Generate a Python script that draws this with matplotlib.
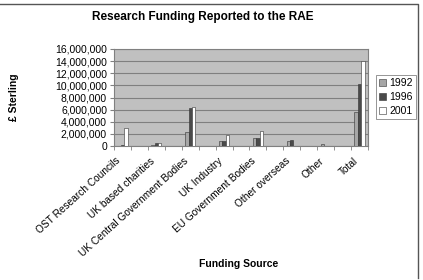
import numpy as np
import matplotlib
matplotlib.use('Agg')
import matplotlib.pyplot as plt
import matplotlib.transforms as mtransforms
from matplotlib.ticker import FuncFormatter
from matplotlib.lines import Line2D

plt.rcParams['font.family'] = ['Liberation Sans', 'DejaVu Sans']

sources = ['OST Research Councils', 'UK based charities', 'UK Central Government Bodies',
           'UK Industry', 'EU Government Bodies', 'Other overseas', 'Other', 'Total']
years = ['1992', '1996', '2001']
# values in pounds sterling
v1992 = [50000, 150000, 2300000, 800000, 1300000, 900000, 300000, 5650000]
v1996 = [150000, 500000, 6300000, 750000, 1300000, 1000000, 0, 10200000]
v2001 = [3000000, 450000, 6400000, 1850000, 2400000, 0, 0, 14100000]
colors = ['#a6a6a6', '#4a4a4a', '#ffffff']

fig = plt.figure(figsize=(4.23, 2.80), dpi=100)
ax = fig.add_axes([114 / 423, 1 - 146 / 280, 254 / 423, 97 / 280])

# categories sit on every other slot, like the original sheet
x = np.arange(len(sources)) * 2
w = 0.2
for i, (vals, c) in enumerate(zip([v1992, v1996, v2001], colors)):
    ax.bar(x + (i - 1) * w, vals, w, color=c, edgecolor='#333333', linewidth=0.4,
           label=years[i], zorder=3)

ax.set_facecolor('#c0c0c0')
ax.set_xlim(-0.5, 2 * len(sources) - 1.5)
ax.set_ylim(0, 16000000)
ax.set_yticks(np.arange(0, 16000001, 2000000))
ax.yaxis.set_major_formatter(FuncFormatter(lambda v, p: f'{int(v):,}'))
ax.yaxis.grid(True, color='#7f7f7f', linewidth=0.8, zorder=0)
for s in ax.spines.values():
    s.set_color('#808080')
    s.set_linewidth(0.8)

ax.set_xticks(x)
ax.set_xticklabels(sources, rotation=42, ha='right', fontsize=7.3)
shift = mtransforms.ScaledTranslation(-7 / 100, 0, fig.dpi_scale_trans)
for lab in ax.get_xticklabels():
    lab.set_transform(lab.get_transform() + shift)
ax.set_xticks(np.arange(-0.5, 2 * len(sources) - 1, 1), minor=True)
ax.tick_params(axis='x', which='major', length=0, pad=7)
ax.tick_params(axis='x', which='minor', length=3, color='#808080')
ax.tick_params(axis='y', labelsize=7.5, length=3, color='#808080', pad=2)

ax.set_ylabel('£ Sterling', fontsize=7.5, fontweight='bold')
ax.yaxis.set_label_coords(-95 / 254, 0.5)
fig.text(239 / 423, 1 - 264 / 280, 'Funding Source', fontsize=7.5, fontweight='bold',
         ha='center', va='center')
fig.text(203 / 423, 1 - 17 / 280, 'Research Funding Reported to the RAE', fontsize=8.5,
         fontweight='bold', ha='center', va='center')

leg = fig.legend(loc='center left', bbox_to_anchor=(376 / 423, 1 - 97 / 280), fontsize=7.5,
                 frameon=True, fancybox=False, handlelength=0.7, handleheight=0.7,
                 handletextpad=0.3, borderpad=0.3, labelspacing=0.4, borderaxespad=0)
leg.get_frame().set_edgecolor('#666666')
leg.get_frame().set_linewidth(0.6)

# chart area border: only top and right edges show in the crop
fig.lines.append(Line2D([0, 418 / 423, 418 / 423], [1 - 4 / 280, 1 - 4 / 280, 1 - 278 / 280],
                        transform=fig.transFigure, color='#555555', linewidth=1.0))

plt.savefig('out.png', dpi=100)
